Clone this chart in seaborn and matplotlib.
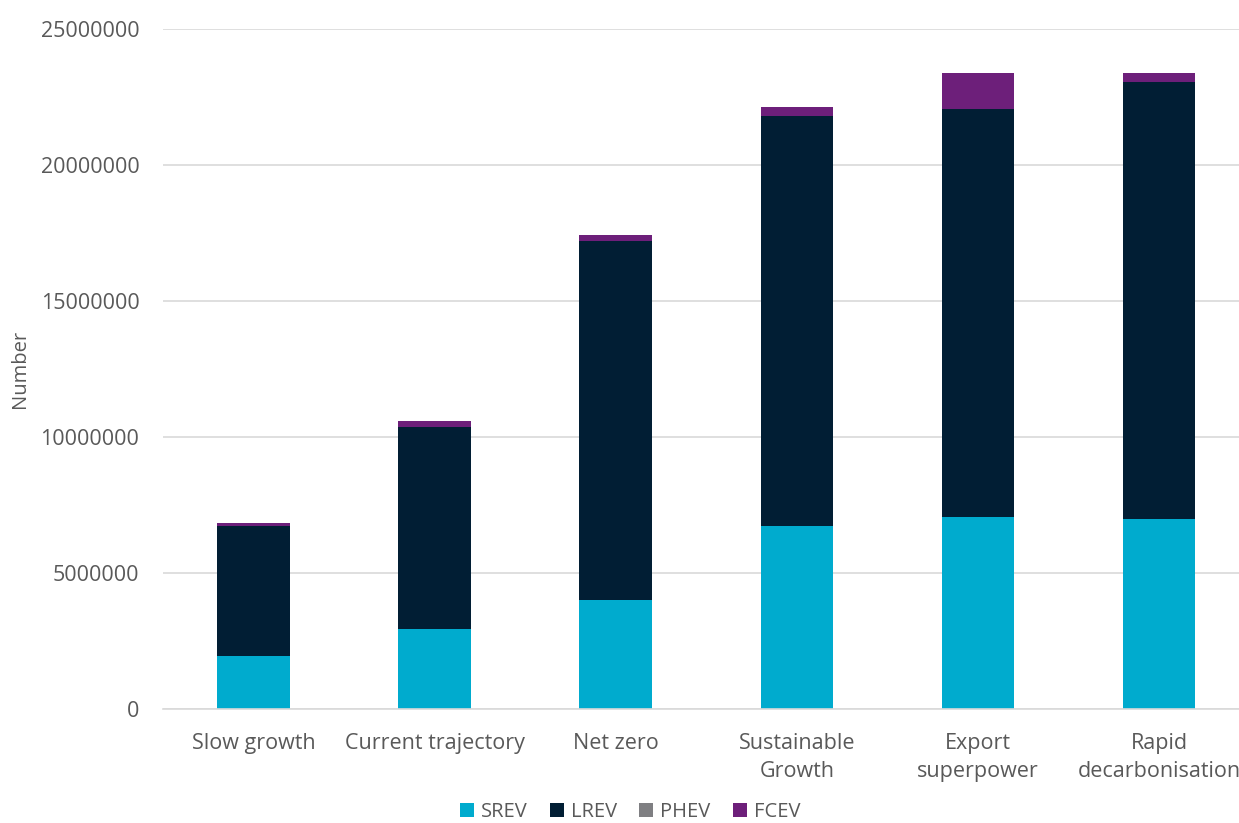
import numpy as np
import pandas as pd
import matplotlib
matplotlib.use("Agg")
import matplotlib.pyplot as plt
from matplotlib.patches import Patch
import seaborn as sns

categories = ["Slow growth", "Current trajectory", "Net zero", "Sustainable\nGrowth",
              "Export\nsuperpower", "Rapid\ndecarbonisation"]
srev = [1950000, 2930000, 4000000, 6730000, 7050000, 6990000]
lrev = [4790000, 7450000, 13220000, 15080000, 15010000, 16070000]
phev = [0, 0, 0, 0, 0, 0]
fcev = [100000, 210000, 210000, 310000, 1320000, 320000]
series_names = ["SREV", "LREV", "PHEV", "FCEV"]
colors = ["#00ABCE", "#011E34", "#7F7F82", "#6D1F7A"]
yticks = [0, 5000000, 10000000, 15000000, 20000000, 25000000]

sns.set_theme(style="white")
plt.rcParams["font.family"] = ["Open Sans", "DejaVu Sans"]
text_color = "#595959"

fig = plt.figure(figsize=(12.39, 8.23), dpi=100)
ax = fig.add_axes([163 / 1239, (823 - 709) / 823, 1 - 163 / 1239, 680 / 823])

series = [srev, lrev, phev, fcev]
bottom = np.zeros(len(categories))
for name, vals, col in zip(series_names, series, colors):
    df = pd.DataFrame({"cat": categories, "val": vals})
    sns.barplot(data=df, x="cat", y="val", color=col, width=0.4, ax=ax,
                bottom=bottom, linewidth=0, saturation=1, errorbar=None)
    bottom = bottom + np.array(vals)

ax.set_ylim(0, 25000000)
ax.set_xlim(-0.5, 5.5 - 10.5 / 181)
ax.set_yticks(yticks)
ax.set_yticklabels([str(v) for v in yticks], fontsize=15.5, color=text_color)
ax.yaxis.grid(True, color="#D9D9D9", linewidth=1.2)
ax.set_axisbelow(True)
for s in ["top", "right", "left"]:
    ax.spines[s].set_visible(False)
ax.spines["bottom"].set_color("#D9D9D9")
ax.spines["bottom"].set_linewidth(1.2)
ax.tick_params(axis="y", length=0, pad=17)
ax.tick_params(axis="x", length=0, pad=17)
for lbl in ax.get_xticklabels():
    lbl.set_fontsize(15.5)
    lbl.set_color(text_color)
    lbl.set_linespacing(1.45)
ax.set_xlabel("")
ax.set_ylabel("Number", fontsize=14.5, color=text_color)
ax.yaxis.set_label_coords(-(163 - 20) / 1076, 0.5)
ax.yaxis.label.set_va("center")

handles = [Patch(facecolor=c, edgecolor="none") for c in colors]
fig.legend(handles, series_names, loc="center", bbox_to_anchor=(630 / 1239, 1 - 812 / 823),
           ncol=4, frameon=False, fontsize=14.5, handlelength=0.7, handleheight=0.7,
           handletextpad=0.35, columnspacing=1.1, labelcolor=text_color,
           borderpad=0.1)

fig.savefig("out.png", dpi=100)
